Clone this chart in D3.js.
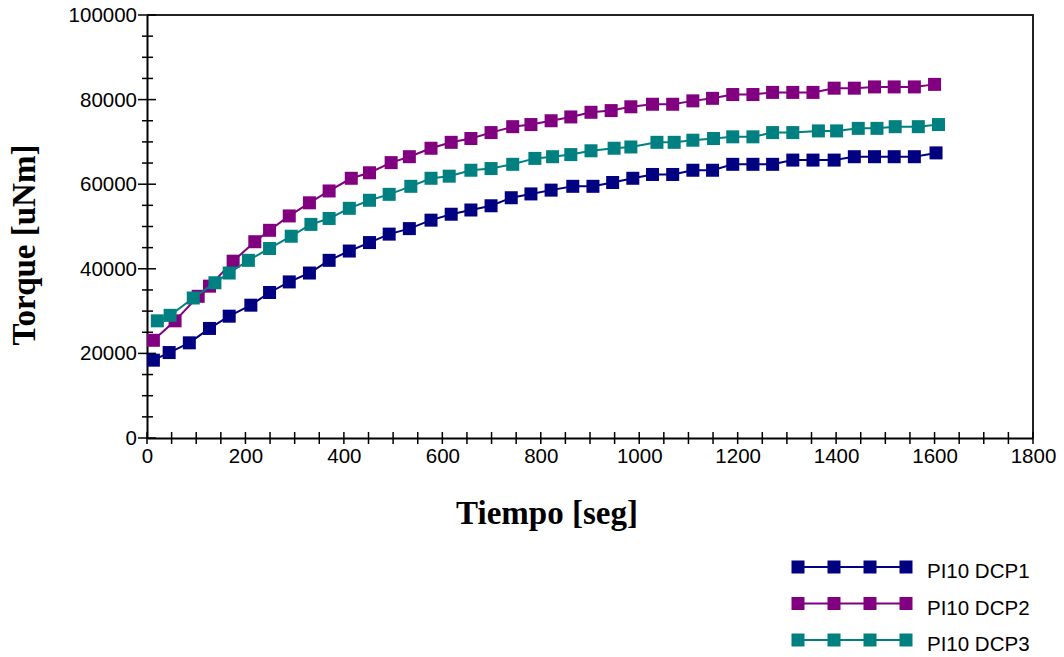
<!DOCTYPE html>
<html>
<head>
<meta charset="utf-8">
<script src="https://cdn.jsdelivr.net/npm/d3@7"></script>
<style>
body { margin: 0; background: #fff; }
svg { display: block; }
</style>
</head>
<body>
<svg width="1064" height="657"></svg>
<script>
// data: time [s] and torque [uNm]
var dcp1Time = [13, 45, 86, 127, 167, 211, 249, 289, 330, 370, 411, 452, 492, 533, 577, 618, 658, 699, 740, 780, 821, 865, 906, 946, 987, 1027, 1068, 1109, 1149, 1190, 1231, 1271, 1312, 1353, 1396, 1437, 1478, 1518, 1559, 1603];
var dcp1Torque = [18400, 20200, 22500, 25900, 28800, 31400, 34400, 36900, 39000, 42000, 44200, 46200, 48200, 49500, 51500, 52900, 53900, 54900, 56800, 57700, 58600, 59500, 59500, 60400, 61400, 62300, 62300, 63300, 63300, 64700, 64700, 64700, 65700, 65700, 65700, 66500, 66500, 66500, 66500, 67400];

var dcp2Time = [13, 57, 104, 127, 175, 219, 249, 289, 330, 370, 415, 452, 496, 533, 577, 618, 658, 699, 743, 780, 821, 861, 902, 943, 983, 1027, 1068, 1109, 1149, 1190, 1231, 1271, 1312, 1353, 1396, 1437, 1478, 1518, 1559, 1600];
var dcp2Torque = [23100, 27700, 33500, 35900, 41800, 46400, 49100, 52500, 55600, 58400, 61400, 62700, 65100, 66500, 68500, 69900, 70800, 72200, 73600, 74100, 75000, 75900, 77000, 77400, 78300, 78900, 78900, 79700, 80300, 81200, 81200, 81700, 81700, 81700, 82700, 82700, 83000, 83000, 83000, 83600];

var dcp3Time = [21, 47, 94, 138, 167, 206, 249, 293, 333, 370, 411, 452, 492, 536, 577, 614, 658, 699, 743, 788, 824, 861, 902, 949, 983, 1036, 1071, 1109, 1151, 1190, 1231, 1271, 1312, 1364, 1401, 1445, 1483, 1520, 1567, 1608];
var dcp3Torque = [27700, 29000, 33100, 36700, 39000, 42000, 44800, 47700, 50500, 51900, 54300, 56200, 57600, 59500, 61400, 61900, 63300, 63700, 64700, 66100, 66500, 67000, 67900, 68500, 68800, 69900, 69900, 70400, 70800, 71200, 71200, 72200, 72200, 72600, 72600, 73200, 73200, 73600, 73600, 74100];

var seriesNames = ["PI10 DCP1", "PI10 DCP2", "PI10 DCP3"];
var seriesColors = ["#000080", "#800080", "#008080"];
var xTicks = [0, 200, 400, 600, 800, 1000, 1200, 1400, 1600, 1800];
var yTicks = [0, 20000, 40000, 60000, 80000, 100000];

var series = [
  { name: seriesNames[0], color: seriesColors[0], pts: d3.zip(dcp1Time, dcp1Torque) },
  { name: seriesNames[1], color: seriesColors[1], pts: d3.zip(dcp2Time, dcp2Torque) },
  { name: seriesNames[2], color: seriesColors[2], pts: d3.zip(dcp3Time, dcp3Torque) }
];

var svg = d3.select("svg");
var plotL = 147, plotR = 1033, plotT = 15, plotB = 438;

var x = d3.scaleLinear().domain([0, 1800]).range([plotL, plotR]);
var y = d3.scaleLinear().domain([0, 100000]).range([plotB, plotT]);

var tickFont = "'Liberation Sans', Arial, sans-serif";
var titleFont = "'Liberation Serif', 'Times New Roman', serif";

// frame (top and right)
svg.append("path")
  .attr("d", `M${plotL},${plotT}H${plotR}V${plotB}`)
  .attr("fill", "none")
  .attr("stroke", "#222")
  .attr("stroke-width", 2);

// minor ticks
svg.append("g").selectAll("line")
  .data(d3.range(0, 1801, 50))
  .enter().append("line")
  .attr("x1", d => x(d)).attr("x2", d => x(d))
  .attr("y1", plotB - 6).attr("y2", plotB + 6)
  .attr("stroke", "#000").attr("stroke-width", 1.5);

svg.append("g").selectAll("line")
  .data(d3.range(0, 100001, 5000))
  .enter().append("line")
  .attr("x1", d => plotL - (d % 20000 === 0 ? 9 : 5))
  .attr("x2", d => plotL + (d % 20000 === 0 ? 9 : 6))
  .attr("y1", d => y(d)).attr("y2", d => y(d))
  .attr("stroke", "#000").attr("stroke-width", 1.5);

// axes
var xAxis = d3.axisBottom(x).tickValues(xTicks).tickFormat(d3.format("d")).tickSize(0).tickPadding(10);
var yAxis = d3.axisLeft(y).tickValues(yTicks).tickFormat(d3.format("d")).tickSize(0).tickPadding(10);

var gx = svg.append("g").attr("transform", `translate(0,${plotB})`).call(xAxis);
var gy = svg.append("g").attr("transform", `translate(${plotL},0)`).call(yAxis);

[gx, gy].forEach(g => {
  g.select(".domain").attr("stroke", "#000").attr("stroke-width", 2);
  g.selectAll("text")
    .attr("font-family", tickFont)
    .attr("font-size", 20.5)
    .attr("fill", "#000");
});
gx.selectAll("text").attr("dy", "0.71em");

// lines + markers
var line = d3.line().x(d => x(d[0])).y(d => y(d[1]));
var ms = 13;

series.forEach(s => {
  svg.append("path")
    .datum(s.pts)
    .attr("d", line)
    .attr("fill", "none")
    .attr("stroke", s.color)
    .attr("stroke-width", 2);
  svg.append("g").selectAll("rect")
    .data(s.pts)
    .enter().append("rect")
    .attr("x", d => x(d[0]) - ms / 2)
    .attr("y", d => y(d[1]) - ms / 2)
    .attr("width", ms).attr("height", ms)
    .attr("fill", s.color);
});

// axis titles
svg.append("text")
  .attr("x", 547).attr("y", 524)
  .attr("text-anchor", "middle")
  .attr("font-family", titleFont)
  .attr("font-weight", "bold")
  .attr("font-size", 33)
  .text("Tiempo [seg]");

svg.append("text")
  .attr("transform", "translate(35,245) rotate(-90)")
  .attr("text-anchor", "middle")
  .attr("font-family", titleFont)
  .attr("font-weight", "bold")
  .attr("font-size", 33)
  .text("Torque [uNm]");

// legend
var legend = svg.append("g").attr("transform", "translate(798,567)");
var lgMarks = [0, 36, 72, 108];

series.forEach((s, i) => {
  var row = legend.append("g").attr("transform", `translate(0,${i * 36.5})`);
  row.append("line")
    .attr("x1", 0).attr("x2", 108)
    .attr("stroke", s.color).attr("stroke-width", 2);
  row.selectAll("rect")
    .data(lgMarks)
    .enter().append("rect")
    .attr("x", d => d - ms / 2).attr("y", -ms / 2)
    .attr("width", ms).attr("height", ms)
    .attr("fill", s.color);
  row.append("text")
    .attr("x", 129).attr("y", 11)
    .attr("font-family", tickFont)
    .attr("font-size", 20.5)
    .attr("fill", "#000")
    .text(s.name);
});
</script>
</body>
</html>
